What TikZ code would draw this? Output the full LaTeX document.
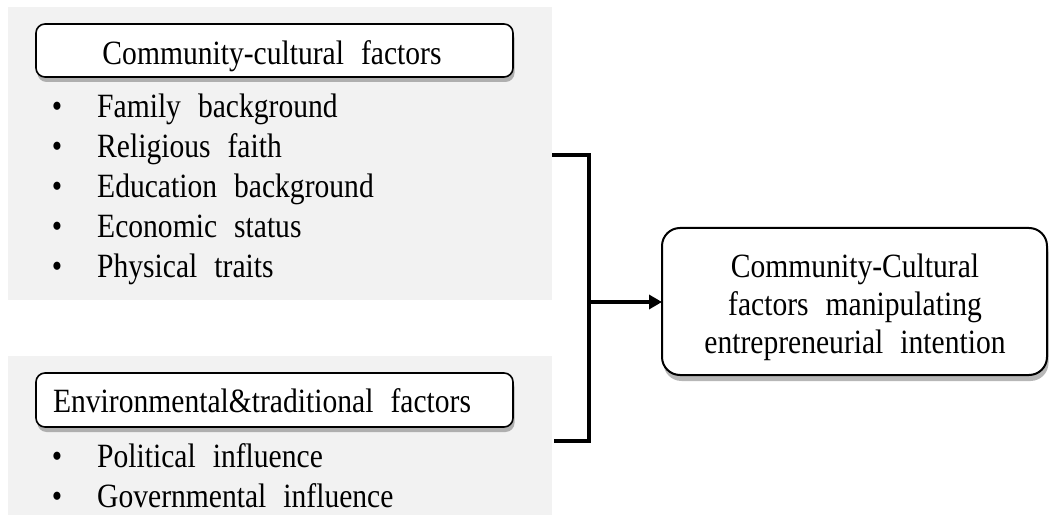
\documentclass[tikz,border=0pt]{standalone}
\usepackage{fontspec}
\setmainfont{Liberation Serif}[FakeStretch=0.87, WordSpace={2.3,1,1}]
\usetikzlibrary{arrows.meta,shadows}
\definecolor{panelgray}{HTML}{F2F2F2}
\tikzset{
  panel/.style={fill=panelgray, draw=none},
  hdr/.style={draw=black, line width=1.6pt, rounded corners=9pt, fill=white,
    drop shadow={shadow xshift=1.5pt, shadow yshift=-5pt, opacity=0.4, fill=black!70}},
  resbox/.style={draw=black, line width=2pt, rounded corners=18pt, fill=white,
    drop shadow={shadow xshift=1.5pt, shadow yshift=-6pt, opacity=0.4, fill=black!70}},
  txt/.style={inner sep=0pt, font=\fontsize{34}{38}\selectfont},
  item/.style={txt, anchor=base west},
  bracket/.style={line width=4pt},
}
\newcommand{\bul}{\makebox[0pt][r]{•\hspace{35pt}}}
\begin{document}
\begin{tikzpicture}[x=1pt,y=-1pt]
\useasboundingbox (0,0) rectangle (1049,518);
% panels
\fill[panel] (8,7) rectangle (552,300);
\fill[panel] (8,356) rectangle (552,515);
% header 1
\path[hdr] (36,24) rectangle (513,77);
\node[txt, anchor=base] (h1) at (272,65) {Community-cultural factors};
\node[item] (a1) at (97,118) {\bul Family background};
\node[item] (a2) at (97,158) {\bul Religious faith};
\node[item] (a3) at (97,198) {\bul Education background};
\node[item] (a4) at (97,238) {\bul Economic status};
\node[item] (a5) at (97,278) {\bul Physical traits};
% header 2
\path[hdr] (36,373) rectangle (513,427);
\node[txt, anchor=base] (h2) at (262,412) {Environmental\&traditional factors};
\node[item] (b1) at (97,467) {\bul Political influence};
\node[item] (b2) at (97,507) {\bul Governmental influence};
% result box
\path[resbox] (662,228) rectangle (1047,375);
\node[txt, align=center, anchor=north] (res) at (855,254)
  {Community-Cultural\\factors manipulating\\entrepreneurial intention};
\coordinate (resw) at (662,302);
% bracket
\coordinate (bt) at (552,155);
\coordinate (bb) at (554,441);
\coordinate (bj) at (589,302);
\draw[bracket] (bt) -- (589,155) -- (589,441) -- (bb);
\draw[line width=4pt, -{Triangle[length=13pt,width=14pt]}] (bj) -- (resw);
\end{tikzpicture}
\end{document}
